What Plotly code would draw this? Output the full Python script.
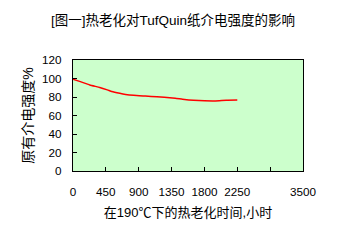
import plotly.graph_objects as go

hours = [0, 100, 230, 366, 470, 530, 640, 720, 830, 990, 1150, 1250, 1400, 1500, 1650, 1800, 1950, 2100, 2250]
strength = [99.3, 96.6, 93.0, 90.3, 87.7, 86.0, 84.0, 82.8, 81.8, 81.0, 80.2, 79.6, 78.6, 77.6, 76.5, 75.9, 75.8, 76.5, 76.7]

x_tickvals = [0, 450, 900, 1350, 1800, 2250, 2700, 3150]
x_ticktext = ["0", "450", "900", "1350", "1800", "2250", "", "3500"]
y_tickvals = [0, 20, 40, 60, 80, 100, 120]

title_text = "[图一]热老化对TufQuin纸介电强度的影响"
x_title = "在190℃下的热老化时间,小时"
y_title = "原有介电强度%"

cjk = "Liberation Sans, Noto Sans CJK SC"

fig = go.Figure()
fig.add_trace(go.Scatter(x=hours, y=strength, mode="lines",
                         line=dict(color="#FF0000", width=1.5, shape="spline", smoothing=0.4),
                         showlegend=False, hoverinfo="skip"))

fig.update_layout(
    width=346, height=242,
    margin=dict(l=73, r=43, t=60, b=71),
    paper_bgcolor="white",
    plot_bgcolor="#CCFFCC",
    title=dict(text=title_text, x=0.5, xanchor="center", y=1 - 20 / 242, yanchor="middle",
               font=dict(family=cjk, size=13.5, color="#000000")),
    font=dict(family=cjk, color="#000000"),
)
fig.update_xaxes(
    range=[0, 3150], tickvals=x_tickvals, ticktext=x_ticktext,
    ticks="inside", ticklen=4, tickcolor="black", tickwidth=1,
    showgrid=False, zeroline=False,
    showline=True, linecolor="black", linewidth=1.3, mirror=True,
    tickfont=dict(family="Liberation Sans", size=11.7, color="black"),
    ticklabelstandoff=10,
    title=dict(text=x_title, font=dict(family=cjk, size=13, color="black"), standoff=10),
)
fig.update_yaxes(
    range=[0, 120], tickvals=y_tickvals,
    ticks="inside", ticklen=4, tickcolor="black", tickwidth=1,
    showgrid=False, zeroline=False,
    showline=True, linecolor="black", linewidth=1.3, mirror=True,
    tickfont=dict(family="Liberation Sans", size=11.7, color="black"),
    ticklabelstandoff=8,
    title=dict(text=y_title, font=dict(family=cjk, size=14, color="black"), standoff=5),
)

fig.write_html("out.html")
